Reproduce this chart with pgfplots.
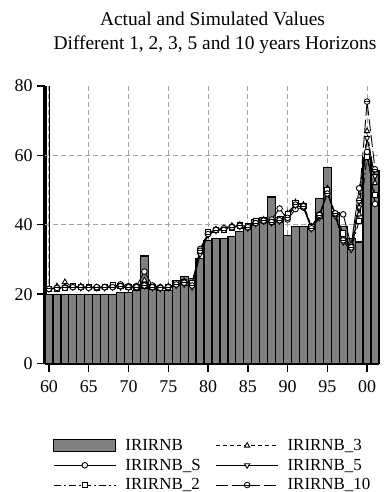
\documentclass[border=0pt]{standalone}
\usepackage{pgfplots}
\usepackage{pgfplotstable}
\pgfplotsset{compat=1.18}
\usepackage{fontspec}
\setmainfont{Liberation Serif}
\definecolor{bargray}{RGB}{128,128,128}
\definecolor{gridgray}{RGB}{165,165,165}

\pgfdeclareplotmark{ominus}{%
  \pgfpathcircle{\pgfpointorigin}{\pgfplotmarksize}%
  \pgfusepathqfillstroke
  \pgfpathmoveto{\pgfpoint{-\pgfplotmarksize}{0pt}}%
  \pgfpathlineto{\pgfpoint{\pgfplotmarksize}{0pt}}%
  \pgfusepathqstroke}

\pgfplotstableread{
year A    S    T2   T3   T5   T10
1960 20   21.5 21.5 21.3 21.5 21.5
1961 20   21.8 21.5 22.3 21.8 21.8
1962 20   22.0 21.8 23.5 22.0 21.8
1963 20   22.2 22.3 22.0 22.0 22.0
1964 20   22.0 22.0 22.3 21.8 22.0
1965 20   22.0 22.0 22.0 21.8 21.8
1966 20   22.0 21.8 22.0 21.8 22.0
1967 20   22.0 22.0 22.0 21.8 22.0
1968 20   22.3 22.5 22.3 22.0 22.0
1969 20.5 22.8 22.3 22.5 22.0 22.3
1970 20.5 22.3 22.0 22.0 21.8 22.0
1971 21   22.3 22.0 22.2 21.8 22.0
1972 31   26.5 22.5 24.0 22.3 22.5
1973 21.5 22.5 22.0 22.0 21.8 22.0
1974 21   22.0 21.8 22.0 21.5 21.8
1975 21   22.0 22.0 22.3 21.8 22.0
1976 24   23.0 23.2 23.0 22.5 22.8
1977 25   23.5 23.5 23.8 22.8 23.3
1978 24.5 23.0 23.3 22.8 22.0 22.5
1979 30.3 33.0 32.5 32.0 31.5 32.5
1980 35.5 37.5 37.8 37.5 37.0 37.3
1981 36   38.5 38.5 38.7 38.3 38.5
1982 36   39.0 38.5 39.0 38.8 38.5
1983 36.5 39.5 39.0 39.7 39.3 39.3
1984 38   39.8 39.8 40.0 39.5 39.7
1985 39   39.5 39.5 39.3 39.0 39.3
1986 41.5 40.5 41.0 40.7 40.3 40.5
1987 42   41.0 41.3 41.5 41.0 41.2
1988 48   41.5 40.8 41.0 40.5 40.8
1989 42   44.7 41.5 41.5 41.0 41.3
1990 37   41.5 43.0 43.3 42.5 42.0
1991 39.5 44.5 46.3 46.5 45.5 45.8
1992 39.5 45.0 45.5 45.8 45.0 45.3
1993 39   39.5 39.3 39.5 38.8 39.0
1994 47.5 43.0 42.5 42.2 42.0 42.8
1995 56.5 49.0 50.0 50.5 49.5 49.0
1996 43.5 43.0 43.0 42.8 42.5 43.3
1997 39.5 43.0 37.5 36.5 35.0 35.5
1998 36   34.0 33.5 33.3 32.8 33.5
1999 35   50.5 41.0 43.0 45.0 47.0
2000 59.5 61.0 59.5 67.0 65.0 75.5
2001 55.5 46.0 48.5 52.0 54.0 56.0
}\data

\begin{document}
\begin{tikzpicture}
\useasboundingbox (-45bp,-128.5bp) rectangle (347bp,363.5bp);
\begin{axis}[
  at={(0,0)}, anchor=south west,
  scale only axis, width=334bp, height=277.5bp,
  xmin=1959.5, xmax=2001.5, ymin=0, ymax=80,
  axis lines*=left,
  axis line style={line width=3bp, black},
  xtick={1960,1965,...,2000},
  xticklabels={60,65,70,75,80,85,90,95,00},
  ytick={0,20,40,60,80},
  tick align=outside, major tick length=8bp,
  tick style={line width=1.5bp, black},
  xmajorgrids=true, ymajorgrids=false,
  extra y ticks={40,60}, extra y tick labels={},
  extra y tick style={ymajorgrids=true, major tick length=0pt},
  grid style={gridgray, line width=1bp, dash pattern=on 5bp off 3bp},
  /pgf/number format/assume math mode=true,
  tick label style={font=\fontsize{18}{18}\selectfont},
  xticklabel style={yshift=-6bp},
  yticklabel style={xshift=-1bp},
  clip=false,
  legend columns=2,
  legend cell align=left,
  legend style={at={(axis description cs:0.024,-0.265)}, anchor=north west,
    draw=none, fill=none, inner sep=0pt, row sep=3bp,
    font=\fontsize{17}{19}\selectfont,
    /tikz/every odd column/.append style={column sep=7bp},
    /tikz/every even column/.append style={column sep=13bp}},
  legend image code/.code={\draw[mark repeat=2,mark phase=2,#1] plot coordinates {(0bp,0bp) (31bp,0bp) (62bp,0bp)};},
]
\addplot[ybar, bar width=1, fill=bargray, draw=black, line width=1.2bp,
  legend image code/.code={\draw[fill=bargray, draw=black, line width=1.2bp] (0bp,-6bp) rectangle (62bp,6bp);}]
  table[x=year,y=A] {\data};
\addlegendentry{IRIRNB}
\addplot[black, line width=0.9bp, dash pattern=on 4bp off 3bp, mark=triangle*, mark size=3bp, mark options={solid, fill=white}]
  table[x=year,y=T3] {\data};
\addlegendentry{IRIRNB\_3}
\addplot[black, line width=0.9bp, mark=*, mark size=2.8bp, mark options={solid, fill=white}]
  table[x=year,y=S] {\data};
\addlegendentry{IRIRNB\_S}
\addplot[black, line width=0.9bp, mark=triangle*, mark size=3bp, mark options={solid, fill=white, rotate=180}]
  table[x=year,y=T5] {\data};
\addlegendentry{IRIRNB\_5}
\addplot[black, line width=0.9bp, dash pattern=on 7bp off 3bp on 2bp off 3bp, mark=square*, mark size=2.6bp, mark options={solid, fill=white}]
  table[x=year,y=T2] {\data};
\addlegendentry{IRIRNB\_2}
\addplot[black, line width=0.9bp, dash pattern=on 12bp off 4bp, mark=ominus, mark size=2.8bp, mark options={solid, fill=white}]
  table[x=year,y=T10] {\data};
\addlegendentry{IRIRNB\_10}
\addplot[black, line width=0.8bp, forget plot] coordinates {(1960,21.5) (1960,80)};
\end{axis}
\node[anchor=base, font=\fontsize{19.5}{23}\selectfont] at (167.5bp,337.5bp) {Actual and Simulated Values};
\node[anchor=base, font=\fontsize{19.5}{23}\selectfont] at (170bp,313.5bp) {Different 1, 2, 3, 5 and 10 years Horizons};
\end{tikzpicture}
\end{document}
